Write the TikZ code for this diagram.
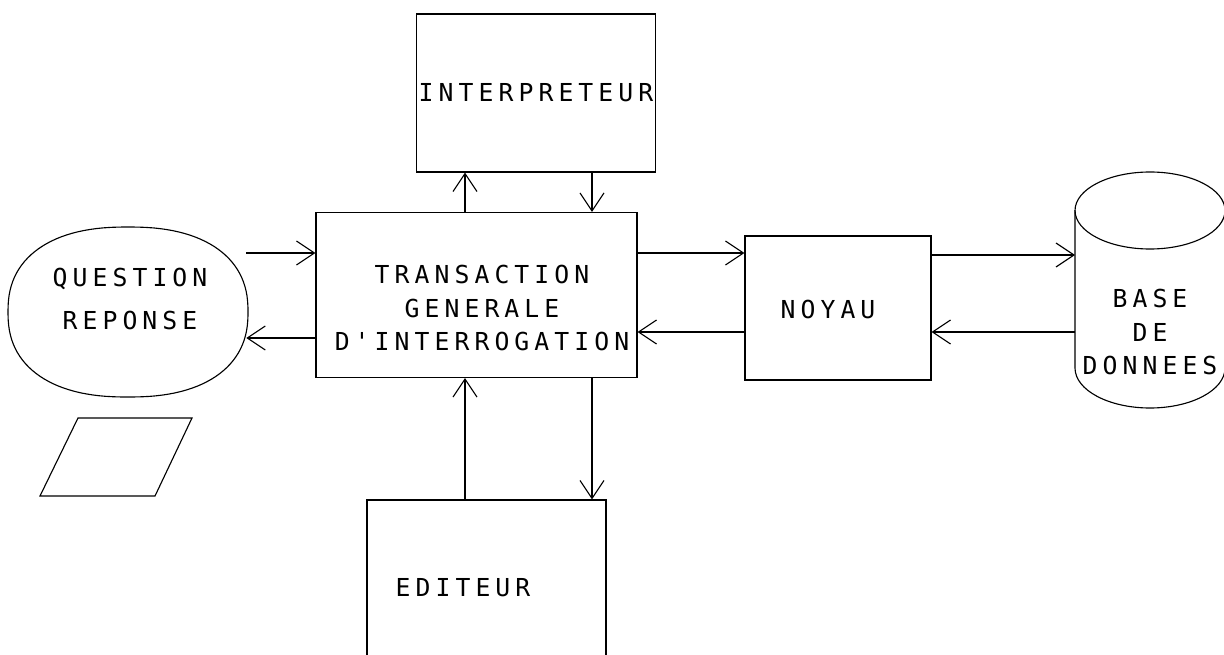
\documentclass[tikz,border=0pt]{standalone}
\usepackage{fontspec}
\usetikzlibrary{arrows.meta}
\newfontfamily\plotter[LetterSpace=20.5]{DejaVu Sans Mono}
\tikzset{
  block/.style={draw, rectangle, line width=0.8pt, inner sep=0pt,
                font=\plotter\fontsize{17.6}{23.8}\selectfont, align=center},
  lbl/.style={inner sep=0pt, font=\plotter\fontsize{17.6}{23.8}\selectfont, align=center},
  outline/.style={line width=0.8pt},
  flow/.style={-{Straight Barb[length=4.5mm,width=6mm]}, line width=0.8pt}
}

\begin{document}
\begin{tikzpicture}[x=0.25mm, y=-0.25mm]
    \clip (0,0) rectangle (1224,655);
    % boxes
    \node[block, minimum width=59.75mm, minimum height=39.5mm] (interp) at (536,93) {INTERPRETEUR};
    \node[block, minimum width=80.25mm, minimum height=41.25mm] (trans) at (476.5,295) {};
    \node[lbl] (translbl) at (482,308) {TRANSACTION\\GENERALE\\D'INTERROGATION};
    \node[block, minimum width=46.5mm, minimum height=36mm] (noyau) at (838,308) {};
    \node[lbl] (noyaulbl) at (828,309) {NOYAU};
    \node[block, minimum width=59.75mm, minimum height=45mm] (edit) at (486.5,590) {};
    \node[lbl] (editlbl) at (463,588) {EDITEUR};
    % terminal
    \draw[outline] plot[domain=1:361, samples=120]
         ({128+120*sign(cos(\x))*abs(cos(\x))^0.85}, {312+85*sign(sin(\x))*abs(sin(\x))^0.85}) -- cycle;
    \node[lbl, minimum width=58mm, minimum height=42mm] (qr) at (130,299) {QUESTION\\[2.6mm]REPONSE};
    \draw[outline] (78,418) -- (192,418) -- (155,496) -- (40,496) -- cycle;
    % data base
    \draw[outline] (1150,210.5) ellipse[x radius=18.75mm, y radius=9.625mm];
    \draw[outline] (1075,210.5) -- (1075,368) arc[start angle=180, end angle=360, x radius=18.75mm, y radius=10mm]
         -- (1225,210.5);
    \coordinate (dbleft) at (1075,290);
    \node[lbl] (base) at (1150,332) {BASE\\DE\\DONNEES};
    % flows
    \draw[flow] (qr.east |- 0,253) -- (trans.west |- 0,253);
    \draw[flow] (trans.west |- 0,338) -- (qr.east |- 0,338);
    \draw[flow] (trans.north -| 465,0) -- (interp.south -| 465,0);
    \draw[flow] (interp.south -| 592,0) -- (trans.north -| 592,0);
    \draw[flow] (trans.east |- 0,253) -- (noyau.west |- 0,253);
    \draw[flow] (noyau.west |- 0,332) -- (trans.east |- 0,332);
    \draw[flow] (noyau.east |- 0,255) -- (dbleft |- 0,255);
    \draw[flow] (dbleft |- 0,332) -- (noyau.east |- 0,332);
    \draw[flow] (edit.north -| 465,0) -- (trans.south -| 465,0);
    \draw[flow] (trans.south -| 592,0) -- (edit.north -| 592,0);
\end{tikzpicture}
\end{document}
